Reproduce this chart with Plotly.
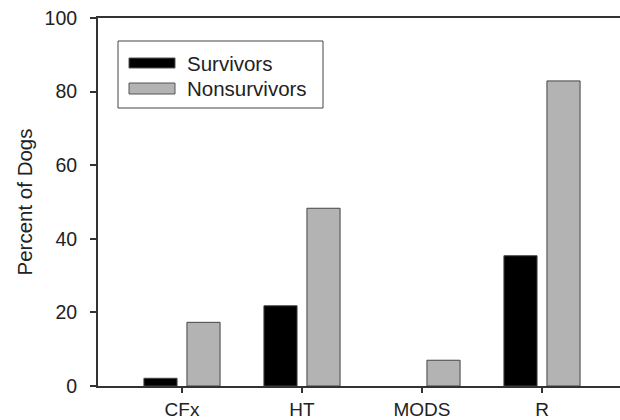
import plotly.graph_objects as go

# Outcome categories and percentage of dogs in each group
categories = ["CFx", "HT", "MODS", "R"]
survivors = [2.1, 21.8, 0, 35.4]
nonsurvivors = [17.3, 48.3, 7.0, 82.9]

series_names = ["Survivors", "Nonsurvivors"]
series_colors = ["#000000", "#b3b3b3"]
series_values = [survivors, nonsurvivors]

W, H = 620, 420
M_L, M_R, M_T, M_B = 98, 0, 18, 34
PLOT_W = W - M_L - M_R
PLOT_H = H - M_T - M_B

FONT = "Liberation Sans, Arial, sans-serif"
AXIS_COLOR = "#333333"


def px_x(px):
    return (px - M_L) / PLOT_W


def px_y(py):
    return (H - M_B - py) / PLOT_H


fig = go.Figure()
for name, color, vals in zip(series_names, series_colors, series_values):
    fig.add_trace(go.Bar(
        x=categories, y=vals, name=name,
        # empty bars get no outline so nothing shows at zero
        marker=dict(color=color,
                    line=dict(color="#444444", width=[0 if v == 0 else 1 for v in vals])),
        showlegend=False,
    ))

# Boxed legend drawn in paper coordinates
shapes = [dict(type="rect", xref="paper", yref="paper",
               x0=px_x(118), x1=px_x(323), y0=px_y(108), y1=px_y(41),
               line=dict(color="#444444", width=1), fillcolor="white", layer="above")]
annotations = []
row_y = [(58, 68), (83, 94)]
for (y0, y1), name, color in zip(row_y, series_names, series_colors):
    shapes.append(dict(type="rect", xref="paper", yref="paper",
                       x0=px_x(129), x1=px_x(175), y0=px_y(y1), y1=px_y(y0),
                       line=dict(color="#555555", width=1), fillcolor=color, layer="above"))
    annotations.append(dict(xref="paper", yref="paper", x=px_x(185), y=px_y((y0 + y1) / 2),
                            text=name, showarrow=False, xanchor="left", yanchor="middle",
                            font=dict(family=FONT, size=20.5, color="#222222")))

fig.update_layout(
    width=W, height=H,
    margin=dict(l=M_L, r=M_R, t=M_T, b=M_B),
    paper_bgcolor="white", plot_bgcolor="white",
    barmode="group", bargap=0.283, bargroupgap=0.23,
    font=dict(family=FONT, size=19, color="#222222"),
    shapes=shapes, annotations=annotations,
    showlegend=False,
    xaxis=dict(
        range=[-0.7, 3.65], showgrid=False, zeroline=False, automargin=False,
        showline=True, linecolor=AXIS_COLOR, linewidth=2, mirror=True,
        ticks="outside", ticklen=5, tickwidth=1.5, tickcolor=AXIS_COLOR,
        tickfont=dict(size=19), ticklabelstandoff=0,
    ),
    yaxis=dict(
        range=[0, 100], dtick=20, showgrid=False, zeroline=False,
        showline=True, linecolor=AXIS_COLOR, linewidth=2,
        ticks="outside", ticklen=6, tickwidth=1.5, tickcolor=AXIS_COLOR,
        tickfont=dict(size=19.5), ticklabelstandoff=9,
        title=dict(text="Percent of Dogs", font=dict(size=20.5), standoff=6),
    ),
)

fig.write_html("out.html")
